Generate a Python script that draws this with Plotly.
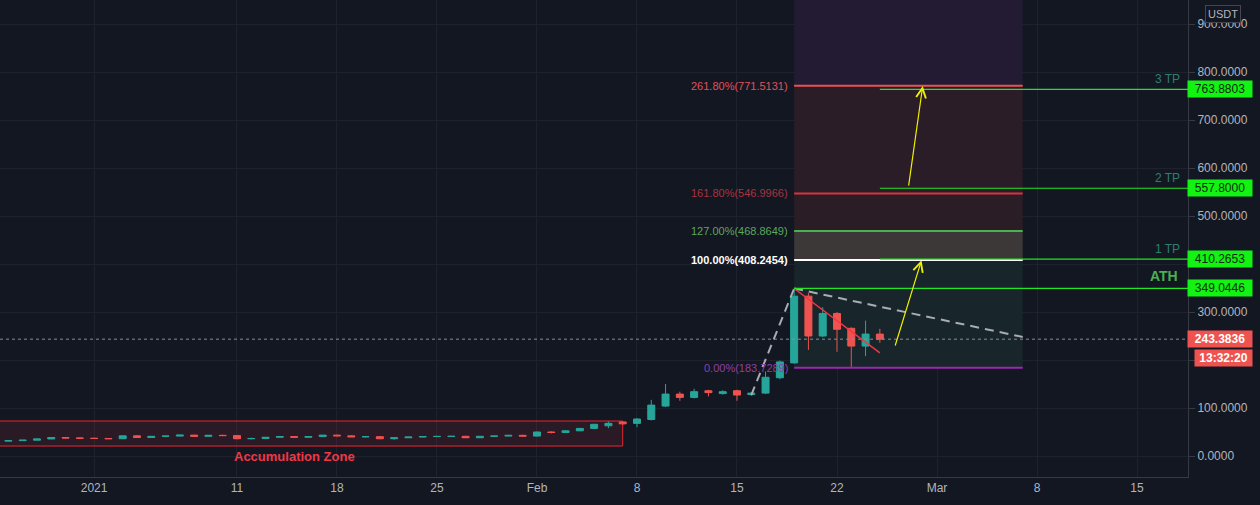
import plotly.graph_objects as go
import pandas as pd

# ---------------- data ----------------
dates = pd.date_range("2020-12-26", "2021-02-25", freq="D").strftime("%Y-%m-%d").tolist()
opens = [31, 32, 33, 35.5, 38.5, 37.5,
         37, 36.5, 36, 42, 38.5, 41, 41.5, 43.5, 41, 43,
         42.5, 36, 36.5, 39, 40.5, 39, 40.5, 43.5, 42, 40,
         40.3, 36, 38, 39.5, 40.5, 40.8, 41, 38, 41, 41.5, 43,
         41.5, 50, 49, 52.5, 57.5, 63, 71, 68, 76, 104,
         129, 122, 136, 130, 136, 128, 131, 163, 194, 333,
         250, 297, 266, 229, 254]
highs = [32.5, 33.5, 36, 39, 39.5, 38.5,
         38, 37.5, 42.5, 43, 41.5, 42, 44, 44, 43.5, 44.5,
         43, 38, 39.5, 41, 41.5, 41, 44, 44.5, 43, 41,
         41, 38.5, 40, 41, 42, 41.5, 42, 41.5, 42, 44, 44.5,
         51, 51.5, 53, 58, 67, 72, 72, 79, 117, 150,
         134, 140, 138, 137, 138, 133, 176, 199, 349, 340,
         310, 300, 268, 282, 265]
lows = [30.5, 31.5, 32.5, 35, 36.5, 36,
        35.5, 35.5, 35.5, 37.5, 38, 40, 40.5, 40.5, 40.5, 41.5,
        35, 34.5, 36, 38.5, 38.5, 38, 40, 41, 39.5, 38.5,
        35, 34, 37.5, 39, 39.5, 39.5, 37.5, 37.5, 40, 41, 40.5,
        41, 47, 48.5, 51.5, 56, 58, 65, 60, 74, 102,
        115, 120, 124, 128, 115, 126, 129, 160, 192, 221,
        248, 217, 185, 208, 236]
closes = [32, 33, 35.5, 38.5, 37.5, 37,
          36.5, 36, 42, 38.5, 41, 41.5, 43.5, 41, 43, 42.5,
          36, 36.5, 39, 40.5, 39, 40.5, 43.5, 42, 40, 40.3,
          36, 38, 39.5, 40.5, 40.8, 41, 38, 41, 41.5, 43, 41.5,
          50, 49, 52.5, 57.5, 66, 68, 67, 77, 106, 129,
          122, 134, 132, 134, 127, 131, 164, 196, 333, 250,
          297, 264, 229, 254, 243.3836]

last_price = 243.3836
countdown = "13:32:20"

# Fibonacci extension drawing
fib_start, fib_end = "2021-02-19", "2021-03-07"
fib_ratios = ["0.00%", "100.00%", "127.00%", "161.80%", "261.80%"]
fib_prices = [183.7289, 408.2454, 468.8649, 546.9966, 771.5131]
fib_line_colors = ["#9c27b0", "#ffffff", "#4caf50", "#d8343e", "#ef4f4f"]
fib_text_colors = ["#8e3fa8", "#ffffff", "#5aa85c", "#a8343f", "#e0505c"]
fib_zone_colors = ["#18252a", "#3b3837", "#2a1d25", "#2a1d28", "#221b33"]
fib_top = 1000

# take-profit levels
tp_names = ["ATH", "1 TP", "2 TP", "3 TP"]
tp_prices = [349.0446, 410.2653, 557.8, 763.8803]
tp_starts = ["2021-02-19", "2021-02-25", "2021-02-25", "2021-02-25"]

# accumulation zone
acc_x0, acc_x1 = "2020-12-20", "2021-02-07"
acc_low, acc_high = 20.8, 72.9
acc_label_x, acc_label_y = "2021-01-15", -2

# trend drawings
dash_x = ["2021-02-16", "2021-02-19", "2021-03-07"]
dash_y = [127, 349, 248]
red_x = ["2021-02-19", "2021-02-25"]
red_y = [349, 215]
arrows = [  # (tail_x, tail_y, head_x, head_y)
    ("2021-02-26 01:00", 227, "2021-02-27 22:00", 408),
    ("2021-02-27 00:00", 560, "2021-02-28 00:00", 771),
]

x_range = ["2020-12-25 09:54", "2021-03-18 13:40"]
y_range = [-43.75, 950]
y_ticks = [0, 100, 200, 300, 400, 500, 600, 700, 800, 900]
y_ticktext = ["0.0000", "100.0000", "", "300.0000", "", "500.0000", "600.0000",
              "700.0000", "800.0000", "900.0000"]
x_ticks = ["2021-01-01", "2021-01-11", "2021-01-18", "2021-01-25", "2021-02-01",
           "2021-02-08", "2021-02-15", "2021-02-22", "2021-03-01", "2021-03-08", "2021-03-15"]
x_ticktext = ["2021", "11", "18", "25", "Feb", "8", "15", "22", "Mar", "8", "15"]

# ---------------- figure ----------------
BG = "#131722"
GRID = "#1e222d"
AX = "#b2b5be"
UP, DOWN = "#26a69a", "#ef5350"
TPG = "#22e622"

fig = go.Figure()
fig.add_trace(go.Candlestick(
    x=dates, open=opens, high=highs, low=lows, close=closes,
    increasing=dict(line=dict(color=UP, width=1), fillcolor=UP),
    decreasing=dict(line=dict(color=DOWN, width=1), fillcolor=DOWN),
    whiskerwidth=0, hoverinfo="skip",
))

shapes = []
annotations = []

# fib zones
bounds = fib_prices + [fib_top]
for i, col in enumerate(fib_zone_colors):
    shapes.append(dict(type="rect", xref="x", yref="y", x0=fib_start, x1=fib_end,
                       y0=bounds[i], y1=bounds[i + 1], fillcolor=col, line_width=0,
                       layer="between"))

# accumulation zone
shapes.append(dict(type="rect", xref="x", yref="y", x0=acc_x0, x1=acc_x1,
                   y0=acc_low, y1=acc_high, fillcolor="rgba(242,54,69,0.10)",
                   line=dict(color="#e8262f", width=1), layer="between"))

# current price dotted line
shapes.append(dict(type="line", xref="paper", yref="y", x0=0, x1=1, y0=last_price, y1=last_price,
                   line=dict(color="#8a8d96", width=1, dash="dot")))

# dashed gray trend
for i in range(len(dash_x) - 1):
    shapes.append(dict(type="line", xref="x", yref="y", x0=dash_x[i], x1=dash_x[i + 1],
                       y0=dash_y[i], y1=dash_y[i + 1],
                       line=dict(color="#a9acb5", width=2, dash="9px,6px")))
# red trend
shapes.append(dict(type="line", xref="x", yref="y", x0=red_x[0], x1=red_x[1],
                   y0=red_y[0], y1=red_y[1], line=dict(color="#f23645", width=1.5)))

# fib lines and labels
for r, p, lc, tc in zip(fib_ratios, fib_prices, fib_line_colors, fib_text_colors):
    shapes.append(dict(type="line", xref="x", yref="y", x0=fib_start, x1=fib_end,
                       y0=p, y1=p, line=dict(color=lc, width=2)))
    annotations.append(dict(x=fib_start, y=p, xref="x", yref="y", showarrow=False,
                            text=f"{r}({p:.4f})", xanchor="right", yanchor="middle",
                            xshift=-4,
                            font=dict(color=tc, size=11,
                                      weight=700 if r == "100.00%" else 400)))

# TP lines
for name, p, s in zip(tp_names, tp_prices, tp_starts):
    shapes.append(dict(type="line", xref="x", yref="y", x0=s, x1=x_range[1],
                       y0=p, y1=p, line=dict(color=TPG, width=1.2)))
    if name == "ATH":
        annotations.append(dict(x=1, y=p, xref="paper", yref="y", showarrow=False,
                                text="<b>ATH</b>", xanchor="right", yanchor="bottom",
                                xshift=-8, yshift=2, font=dict(color="#4caf50", size=14)))
    else:
        annotations.append(dict(x=1, y=p, xref="paper", yref="y", showarrow=False,
                                text=name, xanchor="right", yanchor="bottom",
                                xshift=-6, yshift=1, font=dict(color="#2f7f70", size=12)))
    annotations.append(dict(x=1, y=p, xref="paper", yref="y", showarrow=False,
                            text=f"{p:.4f}", xanchor="left", yanchor="middle", xshift=-1,
                            bgcolor="#13f313", width=62, height=14, borderpad=1,
                            font=dict(color="#0d2a0d", size=12)))

# yellow arrows
for tx, ty, hx, hy in arrows:
    annotations.append(dict(x=hx, y=hy, ax=tx, ay=ty, xref="x", yref="y", axref="x", ayref="y",
                            showarrow=True, arrowhead=5, arrowsize=1.6, arrowwidth=1.2,
                            arrowcolor="#f0f000", text=""))

# accumulation label
annotations.append(dict(x=acc_label_x, y=acc_label_y, xref="x", yref="y", showarrow=False,
                        text="Accumulation Zone", font=dict(color="#f23645", size=13, weight=600)))

# last price labels
annotations.append(dict(x=1, y=last_price, xref="paper", yref="y", showarrow=False,
                        text=f"{last_price:.4f}", xanchor="left", yanchor="middle", xshift=-1,
                        bgcolor="#ef5350", width=62, height=14, borderpad=1,
                        font=dict(color="#ffffff", size=12, weight=600)))
annotations.append(dict(x=1, y=last_price, xref="paper", yref="y", showarrow=False,
                        text=countdown, xanchor="left", yanchor="middle", xshift=6, yshift=-19,
                        bgcolor="#ef5350", width=55, height=14, borderpad=1,
                        font=dict(color="#ffffff", size=12, weight=600)))

# currency badge
annotations.append(dict(x=1, y=1, xref="paper", yref="paper", showarrow=False,
                        text="USDT", xanchor="left", yanchor="top", xshift=17, yshift=-5,
                        bgcolor=BG, bordercolor="#434651", borderwidth=1, borderpad=2,
                        font=dict(color=AX, size=11)))

fig.update_layout(
    width=1260, height=505,
    margin=dict(l=0, r=72, t=0, b=28),
    paper_bgcolor=BG, plot_bgcolor=BG,
    showlegend=False,
    font=dict(family="Liberation Sans, Arial, sans-serif", color=AX, size=12),
    shapes=shapes, annotations=annotations,
    xaxis=dict(range=x_range, type="date", rangeslider=dict(visible=False),
               tickvals=x_ticks, ticktext=x_ticktext, showgrid=True, gridcolor=GRID,
               gridwidth=1, zeroline=False, showline=True, linecolor="#363a45",
               ticks="", tickfont=dict(color=AX, size=12), fixedrange=True),
    yaxis=dict(range=y_range, side="right", tickvals=y_ticks, ticktext=y_ticktext,
               showgrid=True, gridcolor=GRID, gridwidth=1, zeroline=False,
               showline=True, linecolor="#363a45", ticks="outside", ticklen=6,
               tickcolor="#363a45", tickfont=dict(color=AX, size=12), fixedrange=True),
)

fig.write_html("out.html")
